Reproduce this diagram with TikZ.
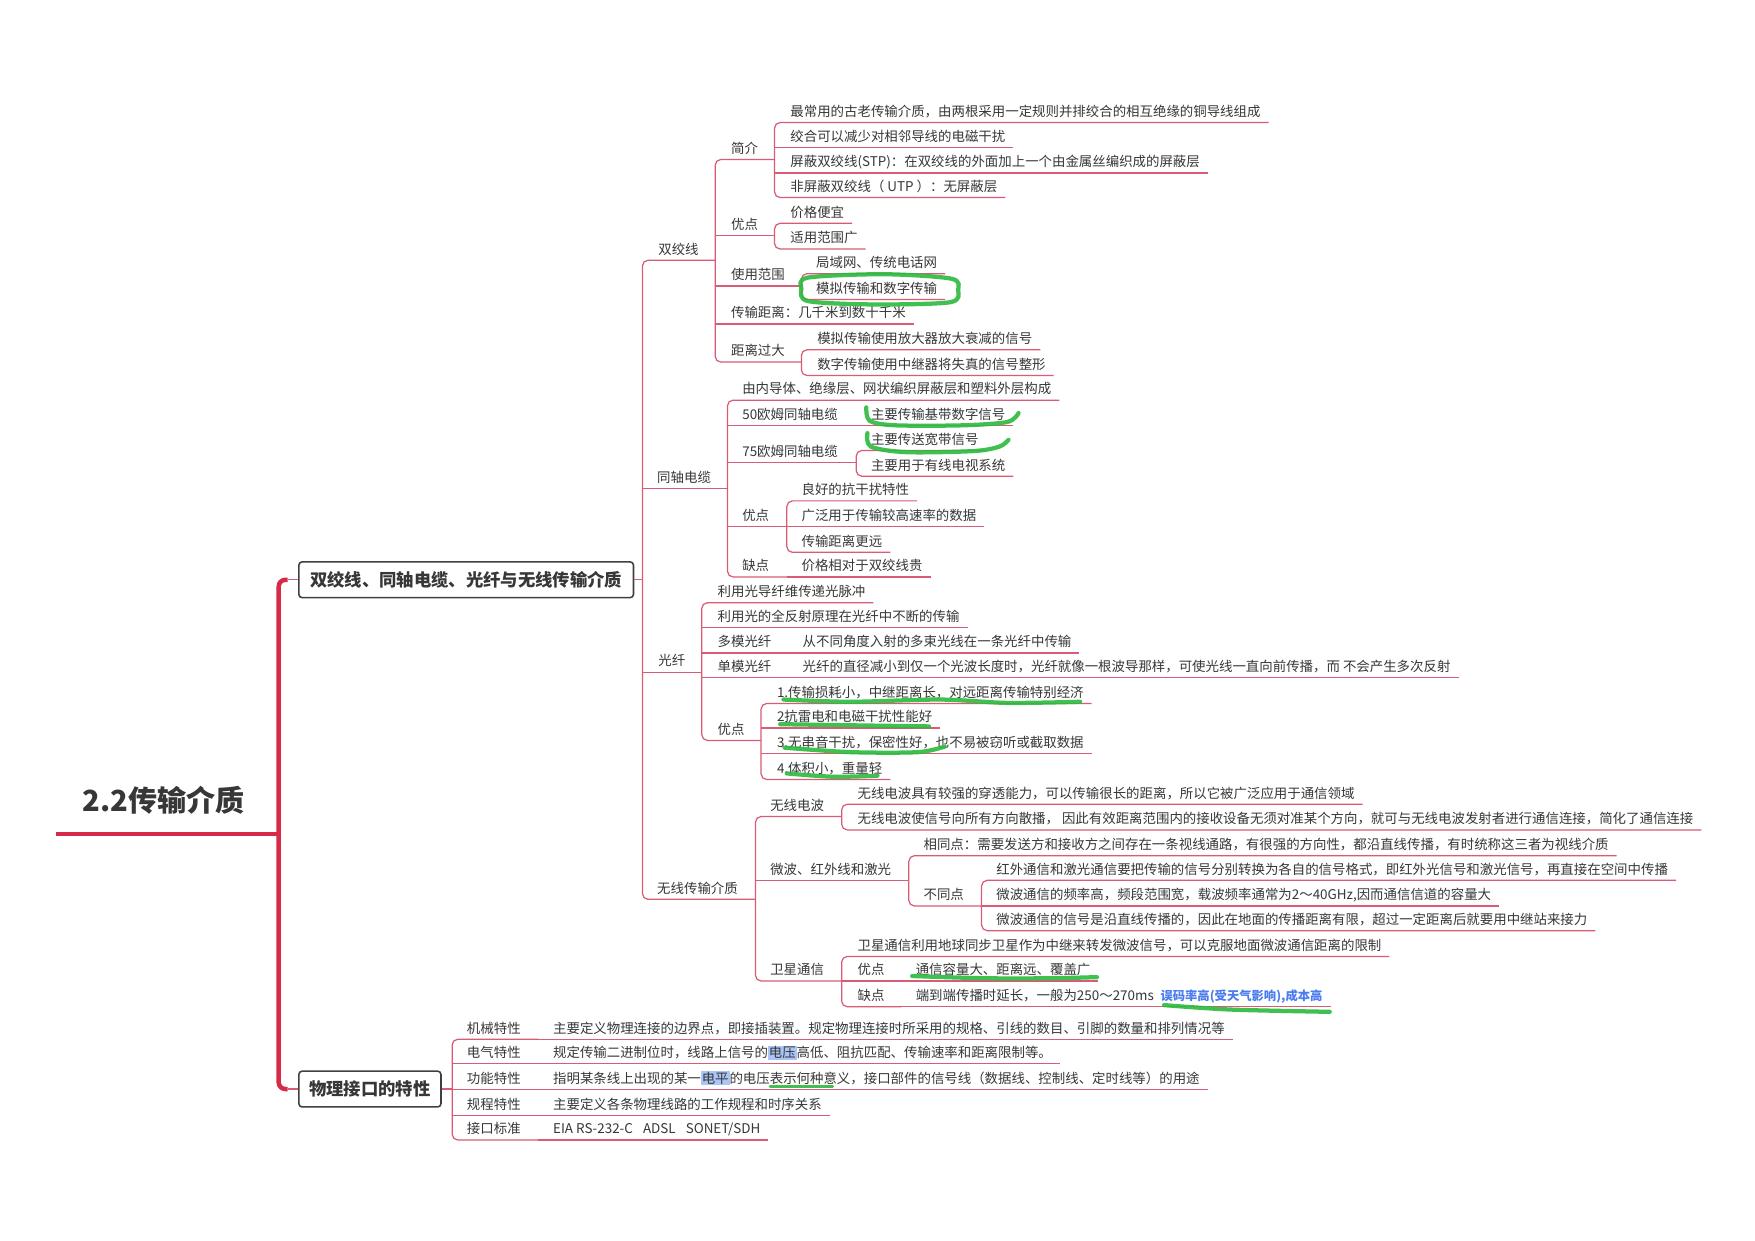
\documentclass[tikz,border=0pt]{standalone}
\usepackage{fontspec}
\setmainfont{Noto Sans CJK SC}
\usetikzlibrary{calc}
\definecolor{mmpink}{RGB}{216,92,118}
\definecolor{mmtrunk}{RGB}{214,42,72}
\definecolor{txtc}{RGB}{55,55,55}
\definecolor{boxc}{RGB}{64,64,64}
\definecolor{mkgreen}{RGB}{44,186,62}
\definecolor{hlblue}{RGB}{170,198,246}
\definecolor{bluetx}{RGB}{74,124,240}
\newcommand{\hlb}[1]{{\setlength{\fboxsep}{0.8pt}\colorbox{hlblue}{#1}}}
\tikzset{
  txt/.style={anchor=base west, inner sep=0pt, text=txtc, font=\fontsize{12}{14}\selectfont},
  mmline/.style={draw=mmpink, line width=1.1pt},
  boxnode/.style={draw=boxc, line width=1.4pt, rounded corners=3pt, inner sep=0pt, text=txtc,
    minimum height=32pt, font=\bfseries\fontsize{15.5}{18}\selectfont},
  marker/.style={draw=mkgreen, line width=3.8pt, line cap=round, line join=round, opacity=0.9}
}
\newcommand{\mmnode}[6]{%
  \node[txt] (#1) at (#2,#3+5) {#6};
  \coordinate (#1-l) at (#4,#3+10.5);
  \coordinate (#1-r) at (#5,#3+10.5);}
\newcommand{\mmleaf}[5]{%
  \node[txt] (#1) at (#2,#3+5) {#5};
  \coordinate (#1-l) at (#4,#3+10.5);
  \path (#1.base east) ++(7,5.5) coordinate (#1-r);}
\newcommand{\ul}[1]{\draw[mmline] (#1-l) -- (#1-r);}
\newcommand{\grp}[2]{\draw[mmline, rounded corners=5pt] (#1-r) -- (#1-l) -- (#2-l) -- (#2-r);}
\begin{document}
\begin{tikzpicture}[x=1pt,y=-1pt]
\useasboundingbox (0,0) rectangle (1568,1108);
\fill[white] (0,0) rectangle (1568,1108);

% root
\node[inner sep=0pt, text=txtc, font=\bfseries\fontsize{26}{30}\selectfont] (root) at (146,715) {2.2传输介质};
\coordinate (root-l) at (50,745);
\coordinate (root-r) at (249,745);
\draw[mmtrunk, line width=4pt] (root-l) -- (root-r);

% level 1 boxes
\node[boxnode, minimum width=299pt] (b1) at (416.5,518) {双绞线、同轴电缆、光纤与无线传输介质};
\node[boxnode, minimum width=127pt] (b2) at (330.5,973) {物理接口的特性};
\coordinate (t-top) at (257,518);
\coordinate (t-bot) at (257,973);
\draw[mmtrunk, line width=4pt, rounded corners=6pt] (t-top) -- (249,518) -- (249,973) -- (t-bot);
\draw[mmline] (t-top) -- (b1.west);
\draw[mmline] (t-bot) -- (b2.west);
\coordinate (b1-j) at (574,518);
\coordinate (b2-j) at (404,973);
\draw[mmline] (b1.east) -- (b1-j);
\draw[mmline] (b2.east) -- (b2-j);

% children of box 1
\mmnode{sj}{588}{222}{574}{639}{双绞线}
\mmnode{tz}{587}{426}{574}{650}{同轴电缆}
\mmnode{gx}{588}{590}{574}{627}{光纤}
\mmnode{wx}{587}{793}{574}{675}{无线传输介质}

% twisted pair
\mmnode{jj}{653}{132}{639}{692}{简介}
\mmleaf{jj1}{706}{99}{692}{最常用的古老传输介质，由两根采用一定规则并排绞合的相互绝缘的铜导线组成}
\mmleaf{jj2}{706}{121}{692}{绞合可以减少对相邻导线的电磁干扰}
\mmleaf{jj3}{706}{144}{692}{屏蔽双绞线(STP)：在双绞线的外面加上一个由金属丝编织成的屏蔽层}
\mmleaf{jj4}{706}{166}{692}{非屏蔽双绞线（ UTP ）：无屏蔽层}
\mmnode{yd}{653}{200}{639}{692}{优点}
\mmleaf{yd1}{706}{189}{692}{价格便宜}
\mmleaf{yd2}{706}{212}{692}{适用范围广}
\mmnode{fw}{653}{245}{639}{716}{使用范围}
\mmleaf{fw1}{729}{234}{716}{局域网、传统电话网}
\mmleaf{fw2}{729}{257}{716}{模拟传输和数字传输}
\mmleaf{jl}{653}{279}{639}{传输距离：几千米到数十千米}
\mmnode{gd}{653}{313}{639}{716}{距离过大}
\mmleaf{gd1}{730}{302}{716}{模拟传输使用放大器放大衰减的信号}
\mmleaf{gd2}{730}{325}{716}{数字传输使用中继器将失真的信号整形}

% coaxial
\mmleaf{tz1}{663}{347}{650}{由内导体、绝缘层、网状编织屏蔽层和塑料外层构成}
\mmnode{o50}{663}{370}{650}{765}{50欧姆同轴电缆}
\mmleaf{o50a}{778}{370}{765}{主要传输基带数字信号}
\mmnode{o75}{663}{403}{650}{765}{75欧姆同轴电缆}
\mmleaf{o75a}{778}{392}{765}{主要传送宽带信号}
\mmleaf{o75b}{778}{415}{765}{主要用于有线电视系统}
\mmnode{tyd}{663}{460}{650}{703}{优点}
\mmleaf{tyd1}{716}{437}{703}{良好的抗干扰特性}
\mmleaf{tyd2}{716}{460}{703}{广泛用于传输较高速率的数据}
\mmleaf{tyd3}{716}{483}{703}{传输距离更远}
\mmnode{tqd}{663}{505}{650}{703}{缺点}
\mmleaf{tqd1}{716}{505}{703}{价格相对于双绞线贵}

% fibre
\mmleaf{g1}{641}{528}{627}{利用光导纤维传递光脉冲}
\mmleaf{g2}{641}{550}{627}{利用光的全反射原理在光纤中不断的传输}
\mmnode{g3}{641}{573}{627}{705}{多模光纤}
\mmleaf{g3a}{717}{573}{705}{从不同角度入射的多束光线在一条光纤中传输}
\mmnode{g4}{641}{595}{627}{705}{单模光纤}
\mmleaf{g4a}{717}{595}{705}{光纤的直径减小到仅一个光波长度时，光纤就像一根波导那样，可使光线一直向前传播，而 不会产生多次反射}
\mmnode{g5}{641}{651}{627}{680}{优点}
\mmleaf{g5a}{694}{618}{680}{1.传输损耗小，中继距离长，对远距离传输特别经济}
\mmleaf{g5b}{694}{640}{680}{2抗雷电和电磁干扰性能好}
\mmleaf{g5c}{694}{663}{680}{3.无串音干扰，保密性好，也不易被窃听或截取数据}
\mmleaf{g5d}{694}{686}{680}{4.体积小，重量轻}

% wireless
\mmnode{w1}{688}{719}{675}{752}{无线电波}
\mmleaf{w1a}{766}{708}{752}{无线电波具有较强的穿透能力，可以传输很长的距离，所以它被广泛应用于通信领域}
\mmleaf{w1b}{766}{731}{752}{无线电波使信号向所有方向散播， 因此有效距离范围内的接收设备无须对准某个方向，就可与无线电波发射者进行通信连接，简化了通信连接}
\mmnode{w2}{688}{776}{675}{812}{微波、红外线和激光}
\mmleaf{w2a}{825}{754}{812}{相同点：需要发送方和接收方之间存在一条视线通路，有很强的方向性，都沿直线传播，有时统称这三者为视线介质}
\mmnode{w2b}{825}{799}{812}{877}{不同点}
\mmleaf{w2b1}{890}{776}{877}{红外通信和激光通信要把传输的信号分别转换为各自的信号格式，即红外光信号和激光信号，再直接在空间中传播}
\mmleaf{w2b2}{890}{799}{877}{微波通信的频率高，频段范围宽，载波频率通常为2～40GHz,因而通信信道的容量大}
\mmleaf{w2b3}{890}{821}{877}{微波通信的信号是沿直线传播的，因此在地面的传播距离有限，超过一定距离后就要用中继站来接力}
\mmnode{w3}{688}{866}{675}{752}{卫星通信}
\mmleaf{w3a}{766}{844}{752}{卫星通信利用地球同步卫星作为中继来转发微波信号，可以克服地面微波通信距离的限制}
\mmnode{w3b}{766}{866}{752}{805}{优点}
\mmleaf{w3b1}{818}{866}{805}{通信容量大、距离远、覆盖广}
\mmnode{w3c}{766}{889}{752}{805}{缺点}
\mmleaf{w3c1}{818}{889}{805}{端到端传播时延长，一般为250～270ms\hspace{6pt}{\bfseries\fontsize{11}{13}\selectfont\color{bluetx}误码率高(受天气影响),成本高}}

% physical interface
\mmnode{p1}{417}{918}{404}{481}{机械特性}
\mmleaf{p1a}{494}{918}{481}{主要定义物理连接的边界点，即接插装置。规定物理连接时所采用的规格、引线的数目、引脚的数量和排列情况等}
\mmnode{p2}{417}{940}{404}{481}{电气特性}
\mmleaf{p2a}{494}{940}{481}{规定传输二进制位时，线路上信号的\hlb{电压}高低、阻抗匹配、传输速率和距离限制等。}
\mmnode{p3}{417}{963}{404}{481}{功能特性}
\mmleaf{p3a}{494}{963}{481}{指明某条线上出现的某一\hlb{电平}的电压表示何种意义，接口部件的信号线（数据线、控制线、定时线等）的用途}
\mmnode{p4}{417}{986}{404}{481}{规程特性}
\mmleaf{p4a}{494}{986}{481}{主要定义各条物理线路的工作规程和时序关系}
\mmnode{p5}{417}{1008}{404}{481}{接口标准}
\mmleaf{p5a}{494}{1008}{481}{EIA RS-232-C\hspace{9pt}ADSL\hspace{9pt}SONET/SDH}

% connectors
\grp{sj}{wx} \ul{tz} \ul{gx}
\grp{jj}{gd} \ul{yd} \ul{fw} \ul{jl}
\grp{jj1}{jj4} \ul{jj2} \ul{jj3}
\grp{yd1}{yd2}
\grp{fw1}{fw2}
\grp{gd1}{gd2}
\grp{tz1}{tqd} \ul{o50} \ul{o75} \ul{tyd}
\ul{o50a}
\grp{o75a}{o75b}
\grp{tyd1}{tyd3} \ul{tyd2}
\ul{tqd1}
\grp{g1}{g5} \ul{g2} \ul{g3} \ul{g4}
\ul{g3a} \ul{g4a}
\grp{g5a}{g5d} \ul{g5b} \ul{g5c}
\grp{w1}{w3} \ul{w2}
\grp{w1a}{w1b}
\grp{w2a}{w2b}
\grp{w2b1}{w2b3} \ul{w2b2}
\grp{w3a}{w3c} \ul{w3b}
\ul{w3b1} \ul{w3c1}
\grp{p1}{p5} \ul{p2} \ul{p3} \ul{p4}
\ul{p1a} \ul{p2a} \ul{p3a} \ul{p4a} \ul{p5a}

% green hand-drawn marks
\draw[marker] plot[smooth cycle] coordinates {(722,248) (790,245) (850,249) (856,259) (849,270) (780,272) (722,269) (716,258)};
\draw[marker] plot[smooth] coordinates {(774,364) (777,376) (800,380) (860,380) (900,377) (910,369)};
\draw[marker] plot[smooth] coordinates {(775,387) (778,399) (810,404) (870,403) (893,399) (901,393)};
\draw[marker] plot[smooth] coordinates {(700,625) (760,627) (840,625) (900,628) (965,627)};
\draw[marker] plot[smooth] coordinates {(697,647) (760,648) (830,649)};
\draw[marker] plot[smooth] coordinates {(701,668) (760,672) (820,672) (844,667)};
\draw[marker] plot[smooth] coordinates {(703,691) (745,694) (784,693)};
\draw[marker] plot[smooth] coordinates {(815,872) (880,874) (940,874) (980,873)};
\draw[marker] plot[smooth] coordinates {(1040,898) (1100,902) (1188,904)};
\draw[marker, line width=2.6pt] ($(p3a.base west)+(194,3)$) -- ($(p3a.base west)+(250,3)$);
\end{tikzpicture}
\end{document}
